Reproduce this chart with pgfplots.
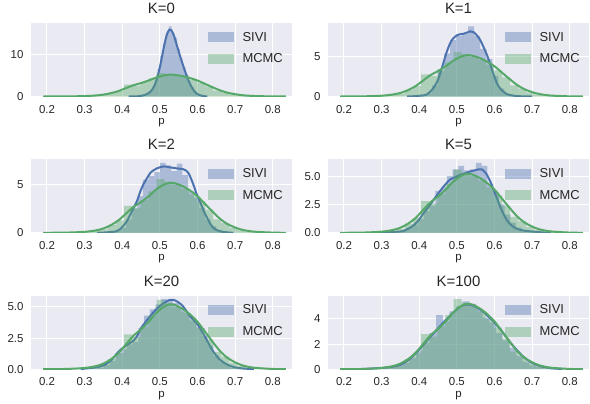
\documentclass[border=0pt]{standalone}
\usepackage{fontspec}
\setmainfont{Liberation Sans}
\usepackage{pgfplots}
\usepackage{pgfplotstable}
\pgfplotsset{compat=1.18}
\definecolor{bg}{HTML}{EAEAF2}
\definecolor{sivi}{HTML}{4C72B0}
\definecolor{mcmc}{HTML}{55A868}
\definecolor{tickc}{HTML}{262626}

\pgfplotstableread{
x y
0.19 0.05
0.2115 0
0.233 0
0.2545 0.05
0.276 0.05
0.2975 0.1
0.319 0.2
0.3405 0.35
0.362 0.8
0.3835 1.3
0.405 2.8
0.4265 2.6
0.448 3.4
0.4695 4.3
0.491 5.57
0.5125 5.3
0.534 5.0
0.5555 4.6
0.577 4.0
0.5985 3.3
0.62 2.4
0.6415 1.4
0.663 1.0
0.6845 0.5
0.706 0.25
0.7275 0.1
0.749 0.05
0.7705 0.05
0.792 0
0.8135 0.05
0.835 0.05
}\mcmchist

\pgfplotstableread{
x y
0.19 0.00
0.25 0.02
0.30 0.10
0.33 0.25
0.35 0.45
0.37 0.8
0.39 1.3
0.41 2.0
0.43 2.7
0.45 3.2
0.47 3.8
0.49 4.5
0.51 5.0
0.525 5.2
0.54 5.15
0.56 4.85
0.58 4.4
0.60 3.8
0.62 3.0
0.64 2.2
0.66 1.45
0.68 0.9
0.70 0.55
0.72 0.3
0.75 0.12
0.80 0.02
0.835 0.0
}\mcmckde

\pgfplotsset{
  panel/.style={
    width=261bp, height=73.5bp, scale only axis,
    anchor=north west,
    xmin=0.1575, xmax=0.851, ymin=0,
    axis background/.style={fill=bg},
    axis line style={draw=none},
    major tick length=0pt,
    grid=major, major grid style={white, line width=1bp},
    xtick={0.2,0.3,0.4,0.5,0.6,0.7,0.8},
    /pgf/number format/assume math mode=true,
    xticklabel style={/pgf/number format/fixed, /pgf/number format/precision=1, /pgf/number format/fixed zerofill, yshift=-5bp},
    yticklabel style={xshift=-4bp},
    tick label style={font=\fontsize{11.5}{13}\selectfont, text=tickc},
    xlabel={p},
    xlabel style={font=\fontsize{11.5}{13}\selectfont, text=tickc,
      at={(axis description cs:0.5,0)}, anchor=base, yshift=-28bp},
    title style={font=\fontsize{15}{17}\selectfont, text=tickc},
    legend cell align=left,
    legend style={at={(1,1)}, anchor=north east, xshift=-4bp, yshift=-5bp,
      draw=none, fill=none,
      font=\fontsize{13}{15}\selectfont, text=tickc, row sep=7bp,
      /tikz/every odd column/.append style={column sep=7bp}},
    legend image code/.code={\fill[##1] (0bp,-5bp) rectangle (26bp,5bp);},
  },
  hs/.style={ybar interval, fill=sivi, fill opacity=0.4, draw=none, forget plot},
  hm/.style={ybar interval, fill=mcmc, fill opacity=0.4, draw=none, forget plot},
  ks/.style={sivi, line width=2bp, smooth, no marks, forget plot},
  km/.style={mcmc, line width=2bp, smooth, no marks, forget plot},
}

\newcommand{\legendpair}{%
  \addlegendimage{fill=sivi, fill opacity=0.4, draw=none}
  \addlegendentry{SIVI}
  \addlegendimage{fill=mcmc, fill opacity=0.4, draw=none}
  \addlegendentry{MCMC}
}

\begin{document}
\begin{tikzpicture}
\path[use as bounding box] (0bp,0bp) rectangle (590bp,-404bp);

% K=0
\begin{axis}[panel, at={(31bp,-23bp)}, ymax=17.5, ytick={0,10}, title={K=0}]
\addplot[hs] coordinates {
(0.4200,0.14)(0.4274,0)(0.4348,0.14)(0.4422,0)(0.4496,0.27)(0.4570,0.4)(0.4644,0.7)
(0.4718,1.2)(0.4792,2.0)(0.4866,3.9)(0.4940,6.6)(0.5014,9.6)(0.5088,12.6)(0.5162,15.2)
(0.5236,16.67)(0.5310,14.9)(0.5384,14.0)(0.5458,11.3)(0.5532,9.1)(0.5606,7.0)(0.5680,5.2)
(0.5754,3.3)(0.5828,2.2)(0.5902,1.1)(0.5976,0.5)(0.6050,0.3)(0.6124,0.14)(0.6198,0.14)(0.6272,0.14)};
\addplot[ks] coordinates {
(0.417,0)(0.44,0.05)(0.46,0.35)(0.47,0.8)(0.48,1.7)(0.49,3.6)(0.50,7.0)(0.51,11.5)
(0.518,14.6)(0.525,15.9)(0.530,15.8)(0.537,14.6)(0.545,12.2)(0.552,10.1)(0.558,8.4)
(0.565,6.5)(0.572,4.7)(0.58,3.0)(0.588,1.7)(0.595,0.9)(0.605,0.35)(0.615,0.12)(0.625,0.02)};
\addplot[hm] table {\mcmchist};
\addplot[km] table {\mcmckde};
\legendpair
\end{axis}

% K=1
\begin{axis}[panel, at={(328bp,-23bp)}, ymax=9.25, ytick={0,5}, title={K=1}]
\addplot[hs] coordinates {
(0.370,0.06)(0.386,0)(0.402,0.12)(0.418,0.4)(0.434,1.4)(0.450,3.2)(0.466,5.4)(0.482,7.1)
(0.498,7.6)(0.514,7.9)(0.530,8.81)(0.546,7.6)(0.562,6.0)(0.578,4.7)(0.594,2.6)(0.610,1.0)
(0.626,0.3)(0.642,0.12)(0.658,0.06)(0.674,0.06)(0.690,0.06)};
\addplot[ks] coordinates {
(0.368,0)(0.39,0.05)(0.405,0.12)(0.42,0.25)(0.435,0.9)(0.447,1.8)(0.455,2.8)(0.464,4.2)
(0.473,5.6)(0.482,6.7)(0.49,7.3)(0.50,7.7)(0.51,7.85)(0.518,7.9)(0.527,8.05)(0.535,8.2)
(0.544,8.1)(0.553,7.7)(0.562,7.1)(0.571,6.2)(0.58,5.2)(0.589,4.0)(0.598,2.7)(0.606,1.7)
(0.615,1.0)(0.625,0.55)(0.633,0.3)(0.645,0.15)(0.66,0.06)(0.68,0.01)(0.70,0)};
\addplot[hm] table {\mcmchist};
\addplot[km] table {\mcmckde};
\legendpair
\end{axis}

% K=2
\begin{axis}[panel, at={(31bp,-159.3bp)}, ymax=7.64, ytick={0,5}, title={K=2}]
\addplot[hs] coordinates {
(0.335,0.07)(0.350,0)(0.365,0.07)(0.380,0.2)(0.395,0.5)(0.410,1.4)(0.425,2.5)(0.440,3.8)
(0.455,5.5)(0.470,5.9)(0.485,6.3)(0.500,7.28)(0.515,7.0)(0.530,6.4)(0.545,7.2)(0.560,6.0)
(0.575,4.3)(0.590,3.6)(0.605,2.6)(0.620,1.4)(0.635,0.7)(0.650,0.3)(0.665,0.13)(0.680,0.07)(0.695,0.07)};
\addplot[ks] coordinates {
(0.333,0)(0.36,0.05)(0.386,0.18)(0.40,0.6)(0.412,1.2)(0.425,2.2)(0.439,3.3)(0.448,4.3)
(0.457,5.1)(0.466,5.7)(0.474,6.2)(0.483,6.5)(0.492,6.7)(0.51,6.9)(0.527,6.8)(0.545,6.7)
(0.563,6.6)(0.57,6.45)(0.576,6.2)(0.583,5.6)(0.59,4.9)(0.598,4.0)(0.607,3.2)(0.616,2.3)
(0.625,1.6)(0.633,1.0)(0.642,0.5)(0.65,0.3)(0.66,0.15)(0.68,0.04)(0.695,0)};
\addplot[hm] table {\mcmchist};
\addplot[km] table {\mcmckde};
\legendpair
\end{axis}

% K=5
\begin{axis}[panel, at={(328bp,-159.3bp)}, ymax=6.48, ytick={0,2.5,5},
  yticklabel style={/pgf/number format/fixed, /pgf/number format/precision=1, /pgf/number format/fixed zerofill},
  title={K=5}]
\addplot[hs] coordinates {
(0.29,0.07)(0.3053,0)(0.3206,0.07)(0.3359,0.13)(0.3512,0.2)(0.3665,0.46)(0.3818,0.72)
(0.3971,1.2)(0.4124,1.9)(0.4277,2.4)(0.443,3.7)(0.4583,4.0)(0.4736,5.0)(0.4889,5.6)
(0.5042,5.9)(0.5195,5.5)(0.5348,5.6)(0.5501,6.17)(0.5654,5.9)(0.5807,4.3)(0.596,3.6)
(0.6113,2.5)(0.6266,1.6)(0.6419,0.9)(0.6572,0.46)(0.6725,0.26)(0.6878,0.2)(0.7031,0.07)
(0.7184,0.07)(0.7337,0.07)(0.749,0.07)};
\addplot[ks] coordinates {
(0.28,0)(0.314,0.03)(0.33,0.07)(0.358,0.15)(0.37,0.35)(0.385,0.65)(0.398,1.1)(0.411,1.7)
(0.425,2.3)(0.438,2.9)(0.451,3.5)(0.464,4.05)(0.473,4.4)(0.482,4.7)(0.495,4.9)(0.509,5.1)
(0.522,5.25)(0.535,5.4)(0.547,5.5)(0.558,5.6)(0.566,5.6)(0.573,5.4)(0.58,5.1)(0.589,4.5)
(0.598,3.75)(0.607,3.0)(0.615,2.3)(0.624,1.65)(0.633,1.1)(0.642,0.75)(0.651,0.5)
(0.664,0.3)(0.677,0.2)(0.69,0.14)(0.704,0.1)(0.73,0.03)(0.75,0)};
\addplot[hm] table {\mcmchist};
\addplot[km] table {\mcmckde};
\legendpair
\end{axis}

% K=20
\begin{axis}[panel, at={(31bp,-295.7bp)}, ymax=5.9, ytick={0,2.5,5},
  yticklabel style={/pgf/number format/fixed, /pgf/number format/precision=1, /pgf/number format/fixed zerofill},
  title={K=20}]
\addplot[hs] coordinates {
(0.29,0.07)(0.3053,0)(0.3206,0.07)(0.3359,0.13)(0.3512,0.33)(0.3665,0.65)(0.3818,1.3)
(0.3971,1.6)(0.4124,2.0)(0.4277,2.2)(0.443,3.3)(0.4583,4.3)(0.4736,4.8)(0.4889,5.2)
(0.5042,5.62)(0.5195,5.5)(0.5348,5.3)(0.5501,5.0)(0.5654,4.5)(0.5807,3.9)(0.596,3.4)
(0.6113,2.7)(0.6266,1.9)(0.6419,1.1)(0.6572,0.6)(0.6725,0.3)(0.6878,0.13)(0.7031,0.07)
(0.7184,0.07)(0.7337,0)(0.749,0)};
\addplot[ks] coordinates {
(0.29,0)(0.30,0.05)(0.33,0.15)(0.35,0.3)(0.37,0.7)(0.39,1.4)(0.41,1.9)(0.43,2.3)(0.44,2.7)
(0.45,3.3)(0.47,4.1)(0.49,4.8)(0.51,5.3)(0.525,5.55)(0.535,5.57)(0.545,5.45)(0.56,5.1)
(0.58,4.25)(0.60,3.6)(0.62,2.6)(0.64,1.5)(0.66,0.75)(0.68,0.35)(0.70,0.15)(0.72,0.06)(0.75,0.01)};
\addplot[hm] table {\mcmchist};
\addplot[km] table {\mcmckde};
\legendpair
\end{axis}

% K=100
\begin{axis}[panel, at={(328bp,-295.7bp)}, ymax=5.85, ytick={0,2,4}, title={K=100}]
\addplot[hs] coordinates {
(0.25,0.06)(0.2677,0)(0.2854,0.06)(0.3031,0.11)(0.3208,0.17)(0.3385,0.28)(0.3562,0.5)
(0.3739,0.9)(0.3916,1.5)(0.4093,2.1)(0.427,2.9)(0.4447,4.3)(0.4624,3.8)(0.4801,4.6)
(0.4978,5.0)(0.5155,5.4)(0.5332,5.2)(0.5509,4.8)(0.5686,4.1)(0.5863,3.7)(0.604,2.9)
(0.6217,2.3)(0.6394,1.7)(0.6571,1.1)(0.6748,0.6)(0.6925,0.3)(0.7102,0.17)(0.7279,0.06)
(0.7456,0.06)(0.7633,0)(0.781,0)};
\addplot[ks] coordinates {
(0.25,0.02)(0.3,0.1)(0.33,0.2)(0.35,0.35)(0.37,0.7)(0.39,1.25)(0.41,1.9)(0.43,2.6)(0.45,3.25)
(0.47,3.9)(0.49,4.5)(0.51,5.0)(0.525,5.15)(0.54,5.1)(0.56,4.8)(0.58,4.3)(0.60,3.7)(0.62,3.0)
(0.64,2.2)(0.66,1.5)(0.68,0.9)(0.70,0.5)(0.72,0.25)(0.75,0.08)(0.78,0.02)};
\addplot[hm] table {\mcmchist};
\addplot[km] table {\mcmckde};
\legendpair
\end{axis}
\end{tikzpicture}
\end{document}
